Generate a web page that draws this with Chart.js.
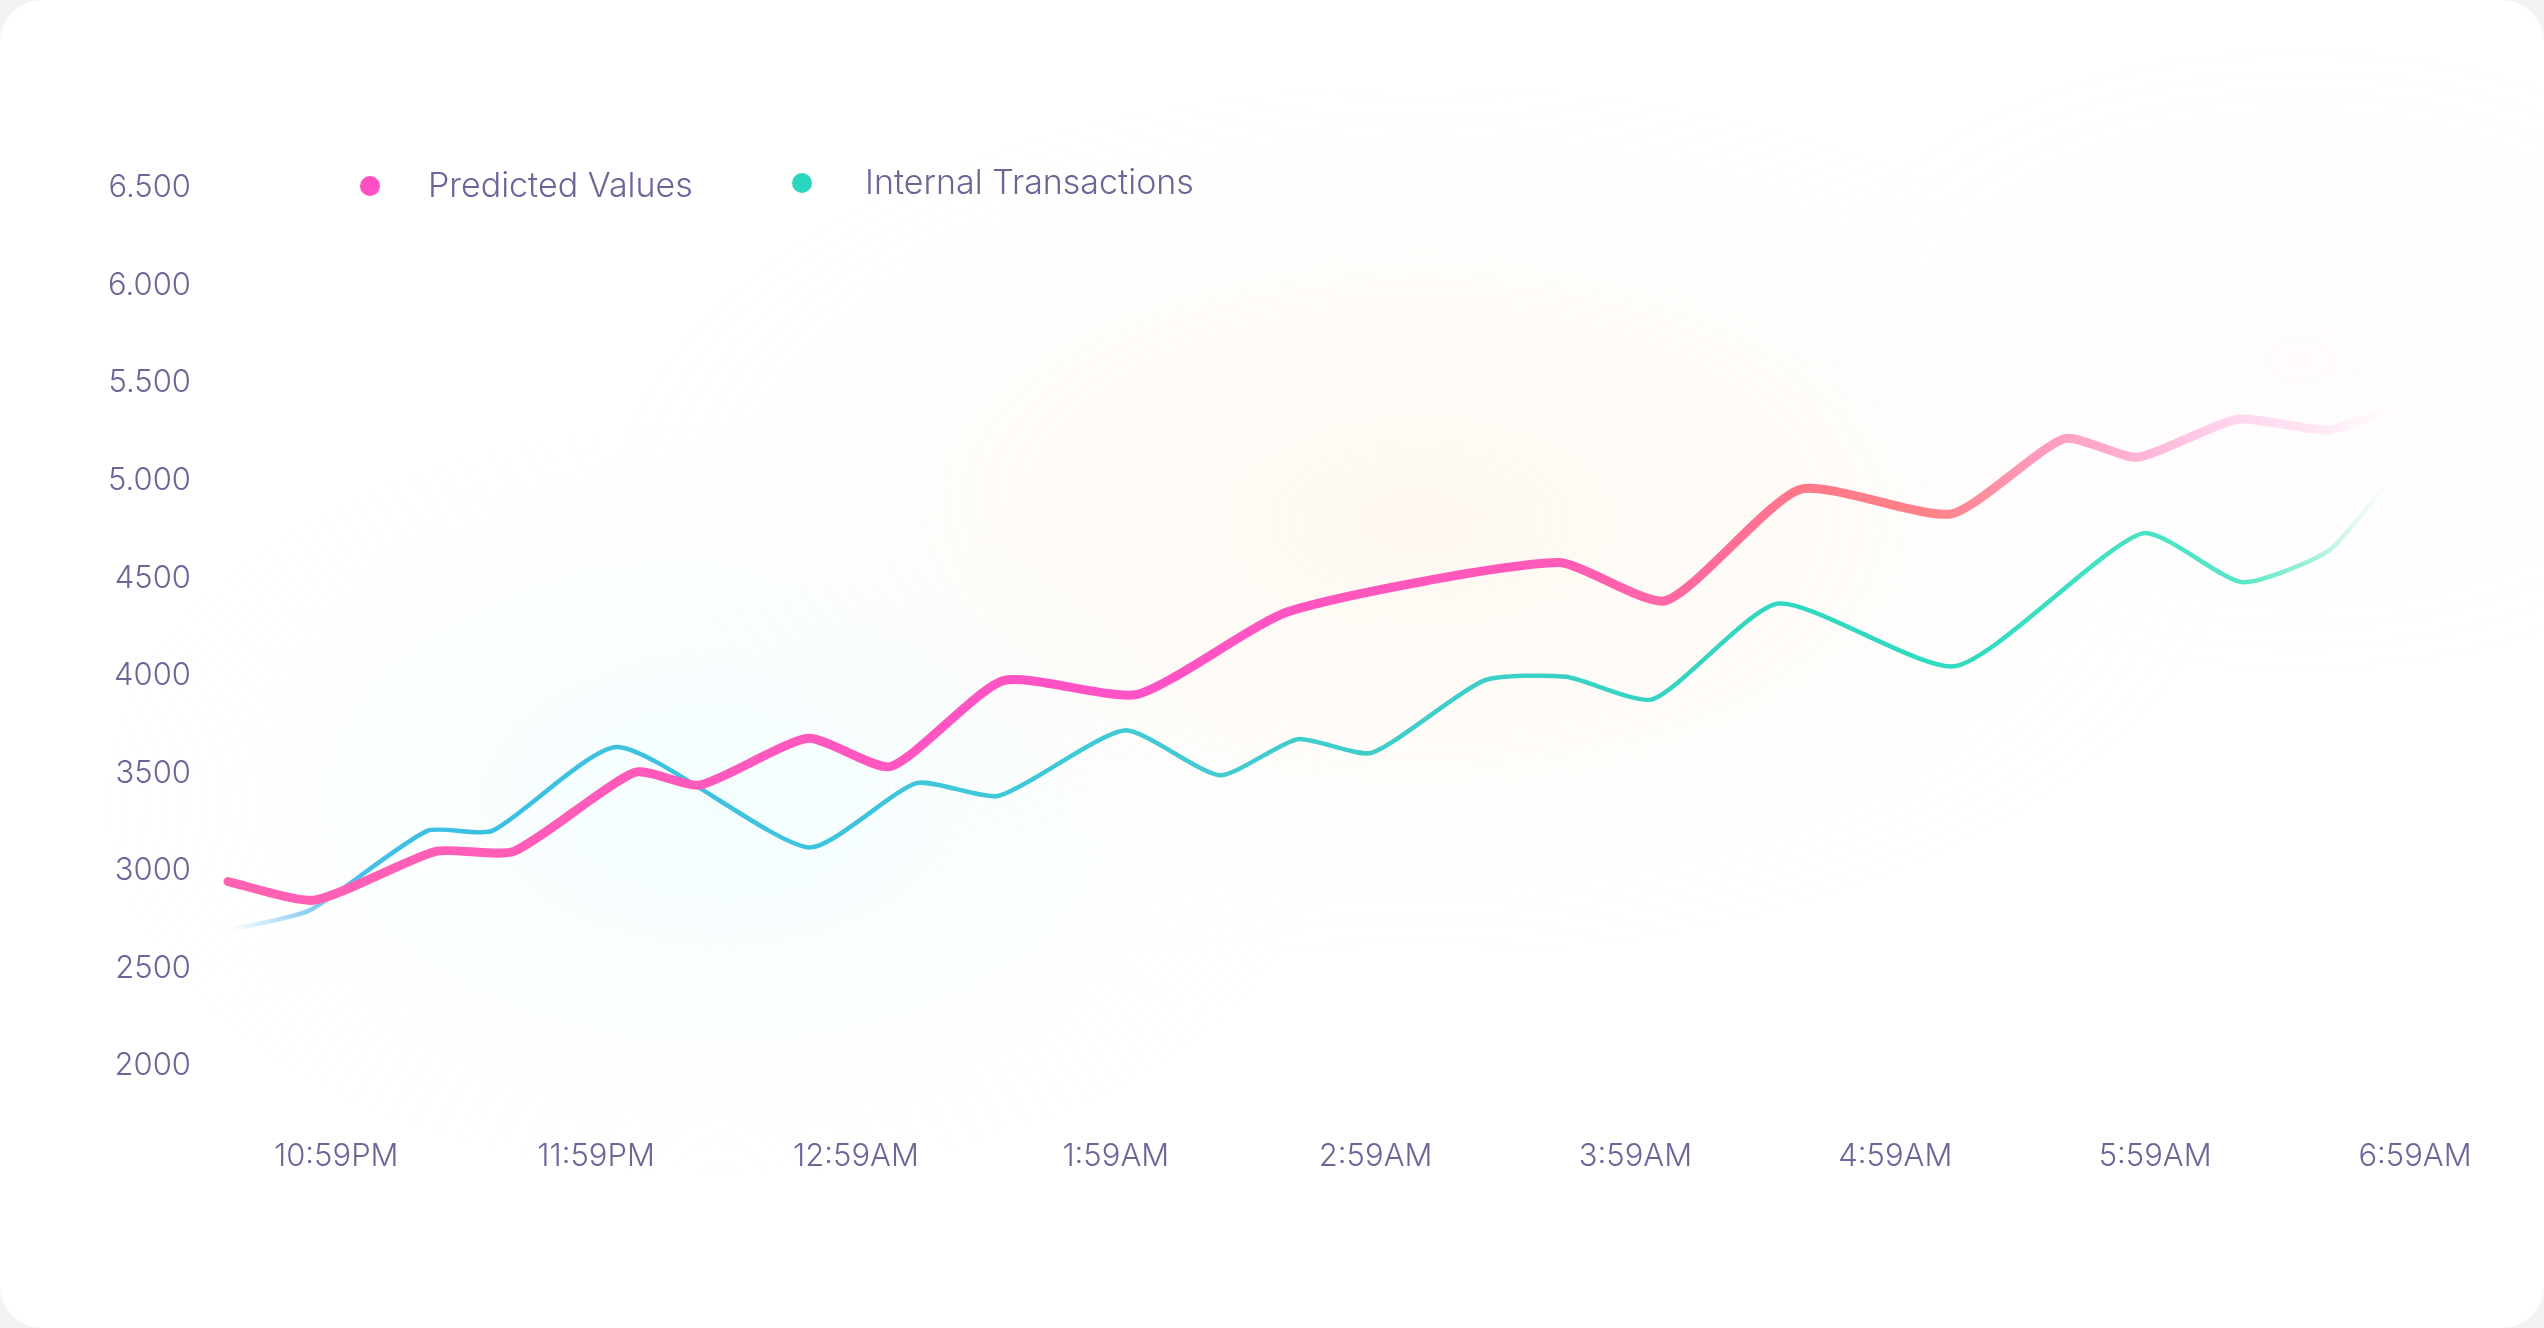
<!DOCTYPE html>
<html>
<head>
<meta charset="utf-8">
<script src="https://cdn.jsdelivr.net/npm/chart.js@4.4.1/dist/chart.umd.min.js"></script>
<style>
  html, body { margin: 0; padding: 0; background: #f3f3f6; }
  #card { position: absolute; left: 0; top: 0; width: 2544px; height: 1328px; border-radius: 42px; background: #ffffff; overflow: hidden; }
  canvas { display: block; }
</style>
</head>
<body>
<div id="card"><canvas id="c" width="2544" height="1328"></canvas></div>
<script>
// ---- data ----
const xTickValues = [0, 60, 120, 180, 240, 300, 360, 420, 480]; // minutes after 10:59PM
const xTickLabels = ['10:59PM', '11:59PM', '12:59AM', '1:59AM', '2:59AM', '3:59AM', '4:59AM', '5:59AM', '6:59AM'];
const yTickValues = [2000, 2500, 3000, 3500, 4000, 4500, 5000, 5500, 6000, 6500];
const yTickLabels = ['2000', '2500', '3000', '3500', '4000', '4500', '5.000', '5.500', '6.000', '6.500'];

const predictedMinutes = [-25, -5, 23, 41, 69, 84, 109, 128, 154, 185, 220, 282, 307, 338, 373, 399, 416, 439, 460, 476];
const predictedValues  = [2945, 2850, 3100, 3100, 3505, 3440, 3680, 3535, 3975, 3905, 4330, 4580, 4385, 4955, 4830, 5215, 5120, 5315, 5260, 5370];

const internalMinutes = [-24, -6, 21, 36, 65, 109, 134, 153, 182, 204, 222, 239, 265, 284, 304, 333, 374, 417, 440, 460, 473];
const internalValues  = [2700, 2800, 3205, 3205, 3635, 3120, 3450, 3385, 3720, 3490, 3675, 3605, 3975, 3995, 3880, 4370, 4050, 4730, 4480, 4640, 4970];

const seriesLabels = ['Predicted Values', 'Internal Transactions'];

// ---- styling helpers ----
const TEXT_COLOR = '#6c6698';
const FONT_FAMILY = 'Inter, "Open Sans", sans-serif';

const pinkStops = [
  [0.00, '#ff62b2'], [0.12, '#ff5db8'], [0.40, '#ff52c6'], [0.60, '#ff59b9'],
  [0.66, '#ff67a3'], [0.72, '#ff7889'], [0.78, '#ff8289'], [0.83, '#ff9dbd'],
  [0.87, '#ffb0d4'], [0.915, '#ffd4ec'], [0.955, '#ffe6f4'], [0.99, 'rgba(255,240,248,0)']
];
const tealStops = [
  [0.00, 'rgba(160,215,245,0)'], [0.035, '#8fd0f2'], [0.06, '#48c1e6'], [0.09, '#3bbfe3'],
  [0.30, '#3ec5dc'], [0.45, '#44cbd2'], [0.60, '#3ad0c4'], [0.72, '#2fd8c0'],
  [0.80, '#30dcc0'], [0.87, '#48e2c4'], [0.92, '#58e6c8'], [0.955, '#a5f0da'], [0.99, 'rgba(220,250,240,0)']
];

function lineGradient(stops, fallback) {
  return (context) => {
    const chart = context.chart;
    const area = chart.chartArea;
    if (!area) return fallback;
    const g = chart.ctx.createLinearGradient(area.left, 0, area.right, 0);
    stops.forEach(([o, c]) => g.addColorStop(o, c));
    return g;
  };
}

const glowPlugin = {
  id: 'glow',
  beforeDraw(chart, args, opts) {
    const ctx = chart.ctx;
    opts.glows.forEach(g => {
      ctx.save();
      ctx.translate(g.x, g.y);
      ctx.scale(g.rx, g.ry);
      const grad = ctx.createRadialGradient(0, 0, 0, 0, 0, 1);
      grad.addColorStop(0, g.c);
      grad.addColorStop(0.5, g.m);
      grad.addColorStop(1, 'rgba(255,255,255,0)');
      ctx.fillStyle = grad;
      ctx.fillRect(-1, -1, 2, 2);
      ctx.restore();
    });
  }
};

const legendPlugin = {
  id: 'dotLegend',
  afterDraw(chart, args, opts) {
    const ctx = chart.ctx;
    ctx.save();
    ctx.font = '300 34px ' + FONT_FAMILY;
    ctx.textBaseline = 'middle';
    ctx.textAlign = 'left';
    opts.items.forEach((it, i) => {
      const ds = chart.data.datasets[i];
      ctx.fillStyle = ds.legendColor;
      ctx.beginPath();
      ctx.arc(it.dotX, it.y, 10, 0, Math.PI * 2);
      ctx.fill();
      ctx.fillStyle = TEXT_COLOR;
      ctx.fillText(ds.label, it.textX, it.y + 1);
    });
    ctx.restore();
  }
};

const ctx = document.getElementById('c').getContext('2d');
new Chart(ctx, {
  type: 'line',
  data: {
    datasets: [
      {
        label: seriesLabels[0],
        data: predictedMinutes.map((m, i) => ({ x: m, y: predictedValues[i] })),
        borderColor: lineGradient(pinkStops, '#ff52c6'),
        legendColor: '#ff4fc2',
        borderWidth: 9,
        tension: 0.2,
        pointRadius: 0,
        pointHoverRadius: 0,
        borderCapStyle: 'round',
        borderJoinStyle: 'round',
        fill: false,
        clip: false,
        order: 1
      },
      {
        label: seriesLabels[1],
        data: internalMinutes.map((m, i) => ({ x: m, y: internalValues[i] })),
        borderColor: lineGradient(tealStops, '#3ec5dc'),
        legendColor: '#2ad6bd',
        borderWidth: 4.5,
        tension: 0.2,
        pointRadius: 0,
        pointHoverRadius: 0,
        borderCapStyle: 'round',
        borderJoinStyle: 'round',
        fill: false,
        clip: false,
        order: 2
      }
    ]
  },
  options: {
    responsive: false,
    animation: false,
    devicePixelRatio: 1,
    layout: { padding: { left: 0, top: 188, right: 129, bottom: 0 } },
    plugins: {
      legend: { display: false },
      tooltip: { enabled: false },
      glow: {
        glows: [
          { x: 720, y: 800, rx: 620, ry: 380, c: 'rgba(200,246,250,0.2)', m: 'rgba(200,246,250,0.09)' },
          { x: 1420, y: 520, rx: 820, ry: 440, c: 'rgba(250,212,165,0.16)', m: 'rgba(250,212,165,0.07)' },
          { x: 2300, y: 360, rx: 520, ry: 320, c: 'rgba(255,205,228,0.07)', m: 'rgba(255,205,228,0.03)' }
        ]
      },
      dotLegend: {
        items: [
          { dotX: 370, textX: 428, y: 186 },
          { dotX: 802, textX: 865, y: 183 }
        ]
      }
    },
    scales: {
      x: {
        type: 'linear',
        min: -25,
        max: 480,
        grid: { display: false, drawTicks: false },
        border: { display: false },
        afterBuildTicks(scale) { scale.ticks = xTickValues.map(v => ({ value: v })); },
        afterFit(scale) { scale.height = 262; },
        ticks: {
          padding: 72,
          color: TEXT_COLOR,
          font: { family: FONT_FAMILY, size: 31, weight: '300' },
          maxRotation: 0,
          autoSkip: false,
          callback: (v, i) => xTickLabels[i]
        }
      },
      y: {
        min: 2000,
        max: 6500,
        grid: { display: false, drawTicks: false },
        border: { display: false },
        afterBuildTicks(scale) { scale.ticks = yTickValues.map(v => ({ value: v })); },
        afterFit(scale) { scale.width = 228; },
        ticks: {
          padding: 37,
          color: TEXT_COLOR,
          font: { family: FONT_FAMILY, size: 31, weight: '300' },
          autoSkip: false,
          callback: (v, i) => yTickLabels[i]
        }
      }
    }
  },
  plugins: [glowPlugin, legendPlugin]
});
</script>
</body>
</html>
